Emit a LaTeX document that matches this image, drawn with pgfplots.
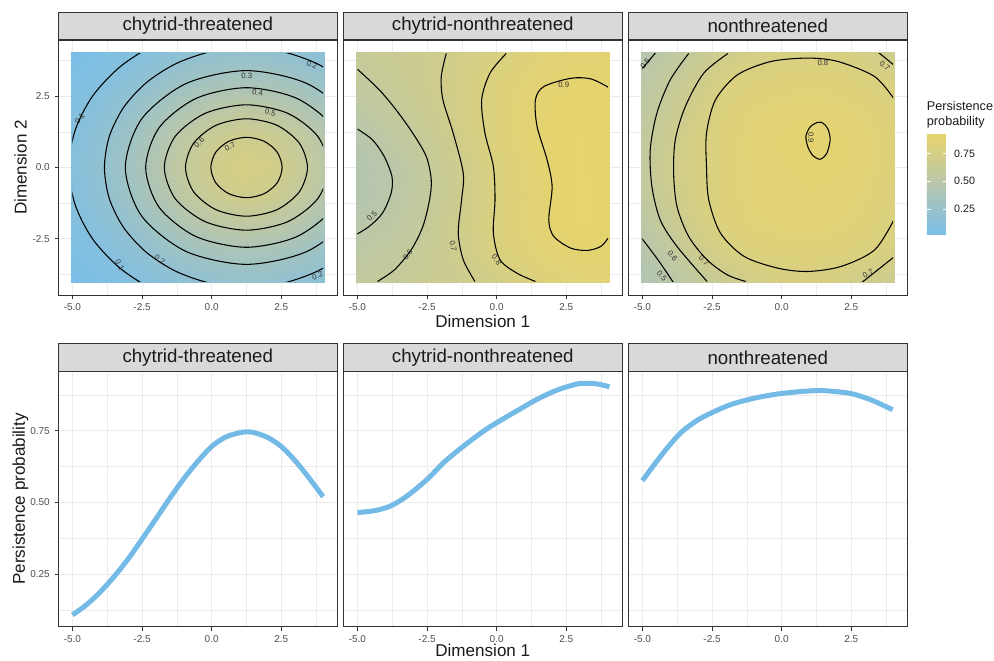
\documentclass[border=0pt]{standalone}
\usepackage{pgfplots}
\pgfplotsset{compat=1.18}
\usepackage{fontspec}
\setmainfont{Liberation Sans}
\definecolor{grey10}{HTML}{1A1A1A}
\definecolor{grey20}{HTML}{333333}
\definecolor{grey30}{HTML}{4D4D4D}
\definecolor{grey92}{HTML}{EBEBEB}
\definecolor{stripgrey}{HTML}{D9D9D9}
\definecolor{lineblue}{RGB}{116,186,230}
\pgfplotsset{
  colormap={persist}{rgb255=(122,190,232) rgb255=(183,198,172) rgb255=(232,212,108)},
  panel/.style={
    scale only axis, width=208.875pt, height=191.25pt, anchor=south west,
    axis line style={draw=grey20, line width=0.6pt},
    xmin=-5.5, xmax=4.5,
    xtick={-5,-2.5,0,2.5}, xticklabels={-5.0,-2.5,0.0,2.5},
    minor xtick={-3.75,-1.25,1.25,3.75},
    grid=both,
    major grid style={draw=grey92, line width=0.75pt},
    minor grid style={draw=grey92, line width=0.4pt},
    tick align=outside, major tick length=3pt, minor tick length=0pt,
    tick pos=left,
    tick style={draw=grey20, line width=0.5pt},
    tick label style={font=\fontsize{7.5}{8}\selectfont, text=grey30},
    every axis title/.style={at={(0.5,1)}, anchor=south, fill=stripgrey, draw=grey20,
      line width=0.6pt, minimum width=208.875pt, minimum height=20.4pt, inner sep=0pt,
      font=\fontsize{14}{16}\selectfont, text=grey10},
  },
  toprow/.style={panel, ymin=-4.475, ymax=4.475, ytick={-2.5,0,2.5},
    yticklabels={-2.5,0.0,2.5}, minor ytick={-3.75,-1.25,1.25,3.75},
    colormap name=persist, point meta min=0.022, point meta max=0.93},
  botrow/.style={panel, ymin=0.0676, ymax=0.9564, ytick={0.25,0.5,0.75},
    yticklabels={0.25,0.50,0.75}, minor ytick={0.125,0.375,0.625,0.875}},
  noy/.style={yticklabels={}, ytick style={draw=none}},
  heat/.style={surf, shader=interp, mesh/cols=10, point meta=explicit},
  cline/.style={black, line width=0.8pt, smooth, mark=none},
  bline/.style={lineblue, line width=3.75pt, smooth, mark=none, line cap=butt},
}
\tikzset{clab/.style={font=\fontsize{5.8}{6}\selectfont, text=grey20, inner sep=0.3pt}}
\begin{document}
\begin{tikzpicture}
\useasboundingbox (0,0) rectangle (745.5pt,495pt);

% ---------------- top row, panel 1 ----------------
\begin{axis}[toprow, at={(43.875pt,273.75pt)}, title={chytrid-threatened}]
\addplot[heat] table[meta=p] {
x y p
-5.045 -4.05 0.030
-4 -4.05 0.053
-3 -4.05 0.086
-2 -4.05 0.125
-1 -4.05 0.164
0 -4.05 0.195
1 -4.05 0.211
2 -4.05 0.205
3 -4.05 0.181
4.045 -4.05 0.145
-5.045 -3 0.053
-4 -3 0.093
-3 -3 0.150
-2 -3 0.218
-1 -3 0.287
0 -3 0.342
1 -3 0.369
2 -3 0.360
3 -3 0.318
4.045 -3 0.254
-5.045 -2 0.078
-4 -2 0.139
-3 -2 0.224
-2 -2 0.325
-1 -2 0.428
0 -2 0.510
1 -2 0.550
2 -2 0.537
3 -2 0.473
4.045 -2 0.378
-5.045 -1 0.100
-4 -1 0.177
-3 -1 0.284
-2 -1 0.414
-1 -1 0.545
0 -1 0.649
1 -1 0.700
2 -1 0.682
3 -1 0.602
4.045 -1 0.481
-5.045 0 0.108
-4 0 0.192
-3 0 0.308
-2 0 0.448
-1 0 0.590
0 0 0.703
1 0 0.758
2 0 0.739
3 0 0.652
4.045 0 0.521
-5.045 1 0.100
-4 1 0.177
-3 1 0.284
-2 1 0.414
-1 1 0.545
0 1 0.649
1 1 0.700
2 1 0.682
3 1 0.602
4.045 1 0.481
-5.045 2 0.078
-4 2 0.139
-3 2 0.224
-2 2 0.325
-1 2 0.428
0 2 0.510
1 2 0.550
2 2 0.537
3 2 0.473
4.045 2 0.378
-5.045 3 0.053
-4 3 0.093
-3 3 0.150
-2 3 0.218
-1 3 0.287
0 3 0.342
1 3 0.369
2 3 0.360
3 3 0.318
4.045 3 0.254
-5.045 4.05 0.030
-4 4.05 0.053
-3 4.05 0.086
-2 4.05 0.125
-1 4.05 0.164
0 4.05 0.195
1 4.05 0.211
2 4.05 0.205
3 4.05 0.181
4.045 4.05 0.145
};
\node[clab, rotate=50] at (axis cs:-4.74,1.73) {0.1};
\node[clab, rotate=-60] at (axis cs:-3.30,-3.42) {0.1};
\node[clab, rotate=-35] at (axis cs:-1.86,-3.24) {0.2};
\node[clab, rotate=-22] at (axis cs:3.60,3.60) {0.2};
\node[clab, rotate=20] at (axis cs:3.80,-3.80) {0.2};
\node[clab] at (axis cs:1.26,3.22) {0.3};
\node[clab, rotate=-8] at (axis cs:1.65,2.63) {0.4};
\node[clab, rotate=-15] at (axis cs:2.10,1.93) {0.5};
\node[clab, rotate=45] at (axis cs:-0.45,0.87) {0.6};
\node[clab, rotate=30] at (axis cs:0.66,0.72) {0.7};
\clip (axis cs:-5,-4) rectangle (axis cs:4,4);
\addplot[cline] coordinates {(2.90,4.87) (1.25,5.04) (-0.40,4.87) (-1.935,4.365) (-3.254,3.563) (-4.267,2.52) (-4.903,1.305) (-5.12,0) (-4.903,-1.305) (-4.267,-2.52) (-3.254,-3.563) (-1.935,-4.365) (-0.40,-4.87) (1.25,-5.04) (2.90,-4.87)};
\addplot[cline, smooth cycle] coordinates {(6.35,0) (6.177,1.088) (5.667,2.1) (4.856,2.969) (3.80,3.637) (2.571,4.057) (1.25,4.2) (-0.071,4.057) (-1.30,3.637) (-2.356,2.969) (-3.167,2.1) (-3.677,1.088) (-3.85,0) (-3.677,-1.088) (-3.167,-2.1) (-2.356,-2.969) (-1.30,-3.637) (-0.071,-4.057) (1.25,-4.2) (2.571,-4.057) (3.80,-3.637) (4.856,-2.969) (5.667,-2.1) (6.177,-1.088)};
\addplot[cline, smooth cycle] coordinates {(5.6,0) (5.017,1.7) (3.425,2.944) (1.25,3.4) (-0.925,2.944) (-2.517,1.7) (-3.1,0) (-2.517,-1.7) (-0.925,-2.944) (1.25,-3.4) (3.425,-2.944) (5.017,-1.7)};
\addplot[cline, smooth cycle] coordinates {(4.87,0) (4.385,1.4) (3.06,2.425) (1.25,2.8) (-0.56,2.425) (-1.885,1.4) (-2.37,0) (-1.885,-1.4) (-0.56,-2.425) (1.25,-2.8) (3.06,-2.425) (4.385,-1.4)};
\addplot[cline, smooth cycle] coordinates {(4.2,0) (3.805,1.1) (2.725,1.905) (1.25,2.2) (-0.225,1.905) (-1.305,1.1) (-1.7,0) (-1.305,-1.1) (-0.225,-1.905) (1.25,-2.2) (2.725,-1.905) (3.805,-1.1)};
\addplot[cline, smooth cycle] coordinates {(3.44,0) (3.147,0.855) (2.345,1.481) (1.25,1.71) (0.155,1.481) (-0.647,0.855) (-0.94,0) (-0.647,-0.855) (0.155,-1.481) (1.25,-1.71) (2.345,-1.481) (3.147,-0.855)};
\addplot[cline, smooth cycle] coordinates {(2.53,0) (2.358,0.53) (1.89,0.918) (1.25,1.06) (0.61,0.918) (0.142,0.53) (-0.03,0) (0.142,-0.53) (0.61,-0.918) (1.25,-1.06) (1.89,-0.918) (2.358,-0.53)};
\end{axis}

% ---------------- top row, panel 2 ----------------
\begin{axis}[toprow, noy, at={(257.625pt,273.75pt)}, title={chytrid-nonthreatened}]
\addplot[heat] table[meta=p] {
x y p
-5.045 -4.05 0.580
-4 -4.05 0.608
-3 -4.05 0.637
-2 -4.05 0.665
-1 -4.05 0.694
0 -4.05 0.722
1 -4.05 0.780
2 -4.05 0.830
3 -4.05 0.850
4.045 -4.05 0.860
-5.045 -3 0.530
-4 -3 0.560
-3 -3 0.608
-2 -3 0.660
-1 -3 0.720
0 -3 0.800
1 -3 0.845
2 -3 0.875
3 -3 0.895
4.045 -3 0.890
-5.045 -2 0.495
-4 -2 0.520
-3 -2 0.577
-2 -2 0.652
-1 -2 0.728
0 -2 0.806
1 -2 0.855
2 -2 0.903
3 -2 0.915
4.045 -2 0.910
-5.045 -1 0.450
-4 -1 0.490
-3 -1 0.558
-2 -1 0.634
-1 -1 0.720
0 -1 0.803
1 -1 0.850
2 -1 0.902
3 -1 0.918
4.045 -1 0.910
-5.045 0 0.460
-4 0 0.483
-3 0 0.558
-2 0 0.637
-1 0 0.720
0 0 0.806
1 0 0.857
2 0 0.905
3 0 0.915
4.045 0 0.905
-5.045 1 0.470
-4 1 0.531
-3 1 0.594
-2 1 0.664
-1 1 0.745
0 1 0.820
1 1 0.877
2 1 0.905
3 1 0.915
4.045 1 0.910
-5.045 2 0.520
-4 2 0.578
-3 2 0.634
-2 2 0.689
-1 2 0.762
0 2 0.826
1 2 0.878
2 2 0.905
3 2 0.912
4.045 2 0.905
-5.045 3 0.580
-4 3 0.620
-3 3 0.660
-2 3 0.700
-1 3 0.760
0 3 0.820
1 3 0.860
2 3 0.890
3 3 0.902
4.045 3 0.895
-5.045 4.05 0.616
-4 4.05 0.642
-3 4.05 0.668
-2 4.05 0.695
-1 4.05 0.740
0 4.05 0.784
1 4.05 0.830
2 4.05 0.860
3 4.05 0.875
4.045 4.05 0.880
};
\node[clab, rotate=40] at (axis cs:-4.48,-1.72) {0.5};
\node[clab, rotate=55] at (axis cs:-3.19,-3.06) {0.6};
\node[clab, rotate=-80] at (axis cs:-1.56,-2.77) {0.7};
\node[clab, rotate=-55] at (axis cs:0.0,-3.24) {0.8};
\node[clab] at (axis cs:2.41,2.90) {0.9};
\clip (axis cs:-5,-4) rectangle (axis cs:4,4);
\addplot[cline] coordinates {(-5,1.35) (-4.46,0.97) (-4.04,0.39) (-3.76,-0.32) (-3.79,-0.90) (-4.10,-1.60) (-4.58,-2.07) (-5.0,-2.33)};
\addplot[cline] coordinates {(-5,3.45) (-4.22,2.73) (-3.61,2.02) (-3.01,1.20) (-2.53,0.39) (-2.35,-0.43) (-2.41,-1.13) (-2.65,-2.07) (-3.07,-2.89) (-3.67,-3.59) (-4.28,-4.0)};
\addplot[cline] coordinates {(-1.81,4.0) (-1.99,3.19) (-1.93,2.37) (-1.56,1.20) (-1.20,-0.20) (-1.26,-1.13) (-1.38,-2.30) (-1.20,-3.24) (-0.78,-4.0)};
\addplot[cline] coordinates {(0.34,4.0) (-0.24,3.31) (-0.54,2.37) (-0.42,1.20) (-0.12,0.04) (-0.06,-1.13) (-0.12,-2.30) (0.12,-3.24) (0.73,-3.71) (1.39,-4.0)};
\addplot[cline] coordinates {(4.0,2.82) (3.38,3.11) (2.66,3.13) (1.69,2.84) (1.39,2.37) (1.45,1.44) (1.81,0.27) (1.99,-0.67) (1.87,-1.84) (2.05,-2.42) (2.66,-2.83) (3.26,-2.91) (3.74,-2.77) (4.0,-2.48)};
\end{axis}

% ---------------- top row, panel 3 ----------------
\begin{axis}[toprow, noy, at={(471.375pt,273.75pt)}, title={nonthreatened},
  colorbar,
  colorbar style={at={(parent axis.north east)}, anchor=north west,
    xshift=6.3pt, yshift=-70pt, scale only axis, width=15pt, height=75.75pt,
    ytick={0.25,0.5,0.75}, yticklabels={0.25,0.50,0.75},
    yticklabel style={font=\fontsize{8}{9}\selectfont, text=grey10, xshift=2pt},
    ytick style={draw=white, line width=0.6pt},
    major tick length=3pt, tick align=inside, ytick pos=both, yticklabel pos=right,
    axis line style={draw=none}}]
\addplot[heat] table[meta=p] {
x y p
-5.045 -4.05 0.420
-4 -4.05 0.490
-3 -4.05 0.575
-2 -4.05 0.650
-1 -4.05 0.720
0 -4.05 0.760
1 -4.05 0.770
2 -4.05 0.750
3 -4.05 0.695
4.045 -4.05 0.660
-5.045 -3 0.470
-4 -3 0.560
-3 -3 0.690
-2 -3 0.765
-1 -3 0.815
0 -3 0.830
1 -3 0.835
2 -3 0.825
3 -3 0.800
4.045 -3 0.760
-5.045 -2 0.520
-4 -2 0.630
-3 -2 0.745
-2 -2 0.825
-1 -2 0.855
0 -2 0.865
1 -2 0.870
2 -2 0.860
3 -2 0.840
4.045 -2 0.795
-5.045 -1 0.560
-4 -1 0.680
-3 -1 0.770
-2 -1 0.835
-1 -1 0.865
0 -1 0.875
1 -1 0.880
2 -1 0.875
3 -1 0.855
4.045 -1 0.815
-5.045 0 0.576
-4 0 0.690
-3 0 0.775
-2 0 0.835
-1 0 0.865
0 0 0.880
1 0 0.890
2 0 0.886
3 0 0.865
4.045 0 0.824
-5.045 1 0.565
-4 1 0.680
-3 1 0.775
-2 1 0.835
-1 1 0.870
0 1 0.885
1 1 0.902
2 1 0.890
3 1 0.870
4.045 1 0.830
-5.045 2 0.540
-4 2 0.640
-3 2 0.740
-2 2 0.820
-1 2 0.855
0 2 0.870
1 2 0.875
2 2 0.870
3 2 0.850
4.045 2 0.810
-5.045 3 0.515
-4 3 0.605
-3 3 0.690
-2 3 0.785
-1 3 0.820
0 3 0.835
1 3 0.840
2 3 0.835
3 3 0.815
4.045 3 0.780
-5.045 4.05 0.460
-4 4.05 0.540
-3 4.05 0.620
-2 4.05 0.695
-1 4.05 0.740
0 4.05 0.780
1 4.05 0.790
2 4.05 0.785
3 4.05 0.740
4.045 4.05 0.690
};
\node[clab, rotate=50] at (axis cs:-4.90,3.66) {0.5};
\node[clab, rotate=-50] at (axis cs:-4.30,-3.80) {0.5};
\node[clab, rotate=-50] at (axis cs:-3.92,-3.10) {0.6};
\node[clab, rotate=-45] at (axis cs:-2.80,-3.26) {0.7};
\node[clab, rotate=-40] at (axis cs:3.70,3.58) {0.7};
\node[clab, rotate=30] at (axis cs:3.10,-3.73) {0.7};
\node[clab] at (axis cs:1.48,3.66) {0.8};
\node[clab, rotate=-90] at (axis cs:1.05,1.05) {0.9};
\clip (axis cs:-5,-4) rectangle (axis cs:4,4);
\addplot[cline] coordinates {(-5.05,3.42) (-4.51,4.05)};
\addplot[cline] coordinates {(-5.05,-2.45) (-4.42,-3.27) (-3.88,-4.05)};
\addplot[cline] coordinates {(-3.34,4.0) (-4.0,3.08) (-4.48,1.91) (-4.72,0.62) (-4.66,-0.67) (-4.36,-1.84) (-3.76,-2.77) (-2.68,-4.0)};
\addplot[cline] coordinates {(-1.93,4.0) (-2.80,3.31) (-3.46,2.14) (-3.82,0.97) (-3.88,-0.20) (-3.76,-1.37) (-3.34,-2.42) (-2.68,-3.24) (-1.95,-3.77) (-1.29,-4.0)};
\addplot[cline] coordinates {(3.46,4.05) (4.05,3.58)};
\addplot[cline] coordinates {(2.86,-4.05) (4.06,-3.12)};
\addplot[cline] coordinates {(4.06,2.37) (3.34,3.19) (2.02,3.72) (0.93,3.84) (-0.39,3.72) (-1.59,3.25) (-2.38,2.37) (-2.70,1.20) (-2.70,0.04) (-2.62,-1.13) (-2.20,-2.30) (-1.35,-3.12) (-0.15,-3.53) (0.93,-3.65) (2.14,-3.47) (3.34,-2.89) (4.06,-1.78)};
\addplot[cline, smooth cycle] coordinates {(1.74,0.97) (1.66,1.35) (1.48,1.56) (1.28,1.58) (1.02,1.42) (0.87,1.09) (0.95,0.70) (1.12,0.42) (1.38,0.29) (1.62,0.50)};
\end{axis}

% ---------------- bottom row ----------------
\begin{axis}[botrow, at={(43.875pt,25.125pt)}, title={chytrid-threatened}]
\addplot[bline] coordinates {(-5,0.108) (-4.5,0.143) (-4,0.188) (-3.5,0.242) (-3,0.303) (-2.5,0.372) (-2,0.443) (-1.5,0.515) (-1,0.583) (-0.5,0.643) (0,0.695) (0.5,0.728) (1,0.743) (1.25,0.746) (1.5,0.744) (2,0.727) (2.5,0.695) (3,0.645) (3.5,0.585) (4,0.52)};
\end{axis}
\begin{axis}[botrow, noy, at={(257.625pt,25.125pt)}, title={chytrid-nonthreatened}]
\addplot[bline] coordinates {(-5,0.465) (-4.40,0.471) (-3.80,0.488) (-3.21,0.523) (-2.49,0.581) (-1.89,0.640) (-1.17,0.698) (-0.45,0.750) (0.02,0.779) (0.74,0.820) (1.46,0.860) (2.18,0.892) (2.89,0.913) (3.25,0.915) (3.61,0.913) (4.05,0.903)};
\end{axis}
\begin{axis}[botrow, noy, at={(471.375pt,25.125pt)}, title={nonthreatened}]
\addplot[bline] coordinates {(-5,0.576) (-4.56,0.634) (-4.09,0.692) (-3.61,0.744) (-3.02,0.787) (-2.48,0.814) (-1.83,0.841) (-1.0,0.863) (0.01,0.880) (1.25,0.890) (1.97,0.886) (2.56,0.878) (3.27,0.855) (3.98,0.823)};
\end{axis}

% ---------------- axis titles and legend title ----------------
\node[rotate=90, font=\fontsize{12.8}{15}\selectfont, text=grey10] at (15.4pt,369.4pt) {Dimension 2};
\node[font=\fontsize{12.8}{15}\selectfont, text=grey10] at (362.1pt,254.25pt) {Dimension 1};
\node[rotate=90, font=\fontsize{12.8}{15}\selectfont, text=grey10] at (15.4pt,120.75pt) {Persistence probability};
\node[font=\fontsize{12.8}{15}\selectfont, text=grey10] at (362.1pt,7.1pt) {Dimension 1};
\node[anchor=north west, inner sep=0pt, align=left, font=\fontsize{9.5}{11}\selectfont, text=grey10] at (695pt,419pt) {Persistence\\probability};
\end{tikzpicture}
\end{document}
